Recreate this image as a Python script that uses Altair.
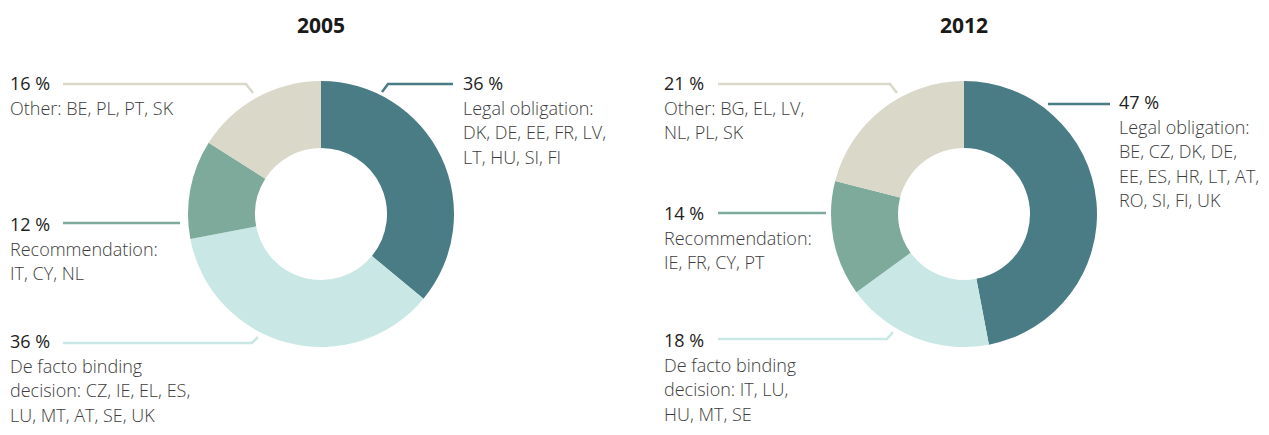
import altair as alt
import pandas as pd

# ---------------- data ----------------
years = ["2005", "2012"]
categories = ["Legal obligation", "De facto binding decision", "Recommendation", "Other"]
values_2005 = [36, 36, 12, 16]
values_2012 = [47, 18, 14, 21]
pct_labels_2005 = ["36 %", "36 %", "12 %", "16 %"]
pct_labels_2012 = ["47 %", "18 %", "14 %", "21 %"]
desc_2005 = [
    ["Legal obligation:", "DK, DE, EE, FR, LV,", "LT, HU, SI, FI"],
    ["De facto binding", "decision: CZ, IE, EL, ES,", "LU, MT, AT, SE, UK"],
    ["Recommendation:", "IT, CY, NL"],
    ["Other: BE, PL, PT, SK"],
]
desc_2012 = [
    ["Legal obligation:", "BE, CZ, DK, DE,", "EE, ES, HR, LT, AT,", "RO, SI, FI, UK"],
    ["De facto binding", "decision: IT, LU,", "HU, MT, SE"],
    ["Recommendation:", "IE, FR, CY, PT"],
    ["Other: BG, EL, LV,", "NL, PL, SK"],
]
colors = ["#4a7c85", "#c9e8e5", "#7eaa9b", "#dad8c9"]

# ---------------- layout (page pixels) ----------------
W, H = 1253, 419
M = 8  # page margin
centers = {"2005": (321, 214), "2012": (964, 214)}
R_OUT, R_IN = 133, 66
LINE_STEP = 24.5
# percent label anchor (left x, baseline y) per year / category
label_pos = {
    "2005": [(463, 90), (10, 348), (10, 231), (10, 90)],
    "2012": [(1119, 109), (664, 347), (664, 220), (664, 90)],
}
# leader line polylines
leaders = {
    "2005": [
        [(382, 92), (388, 84), (453, 84)],
        [(63, 343), (252, 343), (258, 337)],
        [(63, 223), (180, 223)],
        [(63, 84), (246, 84), (253, 93)],
    ],
    "2012": [
        [(1048, 104), (1110, 104)],
        [(718, 339), (887, 339), (893, 332)],
        [(718, 213), (826, 213)],
        [(718, 84), (890, 84), (897, 93)],
    ],
}

# ---------------- tables ----------------
arc_rows = []
pct_rows = []
desc_rows = []
line_rows = []
vals = {"2005": values_2005, "2012": values_2012}
pcts = {"2005": pct_labels_2005, "2012": pct_labels_2012}
descs = {"2005": desc_2005, "2012": desc_2012}
for yr in years:
    for i, cat in enumerate(categories):
        arc_rows.append({"year": yr, "cat": cat, "value": vals[yr][i], "ord": i})
        lx, ly = label_pos[yr][i]
        pct_rows.append({"year": yr, "cat": cat, "text": pcts[yr][i], "px": lx - M, "py": ly - M})
        for j, line in enumerate(descs[yr][i]):
            desc_rows.append({"text": line, "px": lx - M, "py": ly - M + LINE_STEP * (j + 1)})
        for k, (x, y) in enumerate(leaders[yr][i]):
            line_rows.append({"lid": f"{yr}-{i}", "cat": cat, "seq": k, "px": x - M, "py": y - M})

arcs = pd.DataFrame(arc_rows)
pct_df = pd.DataFrame(pct_rows)
desc_df = pd.DataFrame(desc_rows)
line_df = pd.DataFrame(line_rows)
title_df = pd.DataFrame(
    [{"text": yr, "px": centers[yr][0] - M, "py": 33 - M} for yr in years]
)

color_scale = alt.Scale(domain=categories, range=colors)
FONT = "Open Sans"

layers = []
for yr in years:
    cx, cy = centers[yr]
    layers.append(
        alt.Chart(arcs)
        .transform_filter(alt.datum.year == yr)
        .mark_arc(innerRadius=R_IN, outerRadius=R_OUT)
        .encode(
            theta=alt.Theta("value:Q", stack=True, scale=alt.Scale(domain=[0, 100])),
            color=alt.Color("cat:N", scale=color_scale, legend=None),
            order=alt.Order("ord:Q"),
            x=alt.value(cx - M),
            y=alt.value(cy - M),
        )
    )

lines = (
    alt.Chart(line_df)
    .mark_line(strokeWidth=2.5, strokeJoin="miter")
    .encode(
        x=alt.X("px:Q", scale=None, axis=None),
        y=alt.Y("py:Q", scale=None, axis=None),
        detail="lid:N",
        order="seq:Q",
        color=alt.Color("cat:N", scale=color_scale, legend=None),
    )
)

pct_text = (
    alt.Chart(pct_df)
    .mark_text(align="left", baseline="alphabetic", font=FONT, fontSize=18, color="#222222")
    .encode(x=alt.X("px:Q", scale=None), y=alt.Y("py:Q", scale=None), text="text:N")
)

desc_text = (
    alt.Chart(desc_df)
    .mark_text(align="left", baseline="alphabetic", font=FONT, fontSize=18, fontWeight=300, color="#3c3c3c")
    .encode(x=alt.X("px:Q", scale=None), y=alt.Y("py:Q", scale=None), text="text:N")
)

titles = (
    alt.Chart(title_df)
    .mark_text(align="center", baseline="alphabetic", font=FONT, fontSize=21, fontWeight="bold", color="#1a1a1a")
    .encode(x=alt.X("px:Q", scale=None), y=alt.Y("py:Q", scale=None), text="text:N")
)

chart = (
    alt.layer(*layers, lines, pct_text, desc_text, titles)
    .properties(width=W, height=H, padding=0, autosize=alt.AutoSizeParams(type="none"))
    .configure_view(stroke=None)
)

chart.save("out.html", embed_options={"renderer": "svg", "actions": False})
